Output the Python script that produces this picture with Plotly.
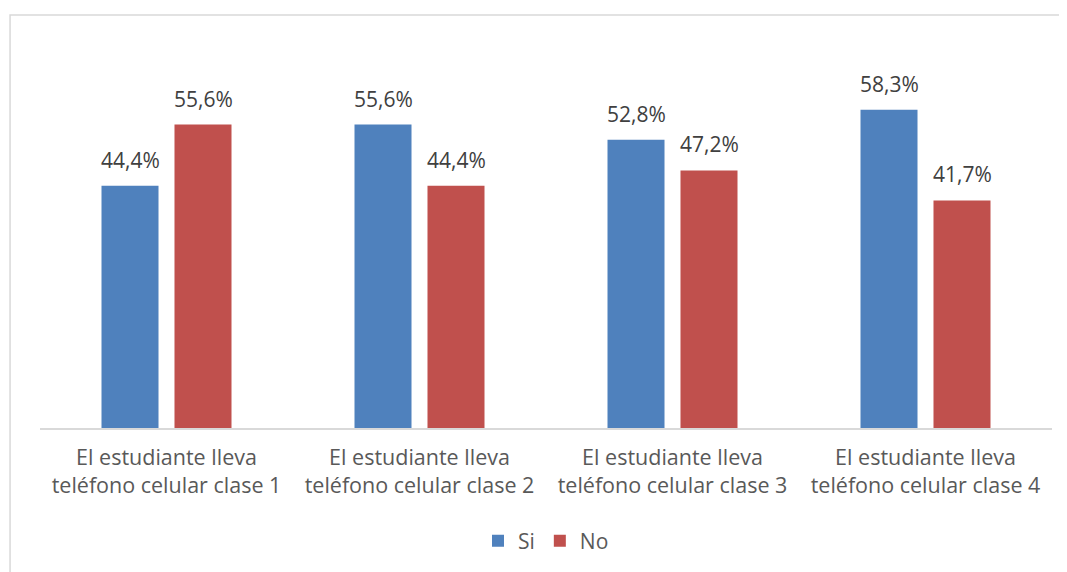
import plotly.graph_objects as go

categories = [
    "El estudiante lleva<br>teléfono celular clase 1",
    "El estudiante lleva<br>teléfono celular clase 2",
    "El estudiante lleva<br>teléfono celular clase 3",
    "El estudiante lleva<br>teléfono celular clase 4",
]
series_names = ["Si", "No"]
si_values = [44.4, 55.6, 52.8, 58.3]
no_values = [55.6, 44.4, 47.2, 41.7]
colors = ["#4F81BD", "#C0504D"]

FONT = "Open Sans"
TXT = "#595959"

fig = go.Figure()
for name, vals, col in zip(series_names, [si_values, no_values], colors):
    fig.add_trace(go.Bar(
        x=categories, y=vals, name=name,
        marker=dict(color=col, line=dict(width=0)),
        hoverinfo="skip",
    ))

# data labels
for vals, shift in zip([si_values, no_values], [-36.5, 36.5]):
    for c, v in zip(categories, vals):
        fig.add_annotation(
            x=c, y=v, xref="x", yref="y",
            text=f"{v:.1f}%".replace(".", ","),
            showarrow=False, xshift=shift, yshift=10,
            yanchor="bottom", xanchor="center",
            font=dict(family=FONT, size=21, color="#404040"),
        )

# outer border
fig.add_shape(type="rect", xref="paper", yref="paper",
              x0=-0.0296, x1=1.0138, y0=-0.40, y1=1.081,
              line=dict(color="#D9D9D9", width=1.5), fillcolor="rgba(0,0,0,0)",
              layer="below")

fig.update_layout(
    width=1067, height=572,
    margin=dict(l=32, r=23, t=38, b=152, pad=0),
    paper_bgcolor="white", plot_bgcolor="white",
    barmode="group", bargap=0.423, bargroupgap=0.219,
    font=dict(family=FONT, size=21, color=TXT),
    showlegend=True,
    legend=dict(orientation="h", x=0.5, xanchor="center", y=-0.296, yanchor="middle",
                font=dict(family=FONT, size=21, color=TXT),
                itemwidth=30, traceorder="normal"),
    xaxis=dict(showline=True, linecolor="#D9D9D9", linewidth=1.5,
               showgrid=False, ticks="", tickfont=dict(family=FONT, size=21.5, color=TXT),
               ticklabelstandoff=9),
    yaxis=dict(range=[0, 70], visible=False, showgrid=False, zeroline=False),
)

fig.write_html("out.html")
